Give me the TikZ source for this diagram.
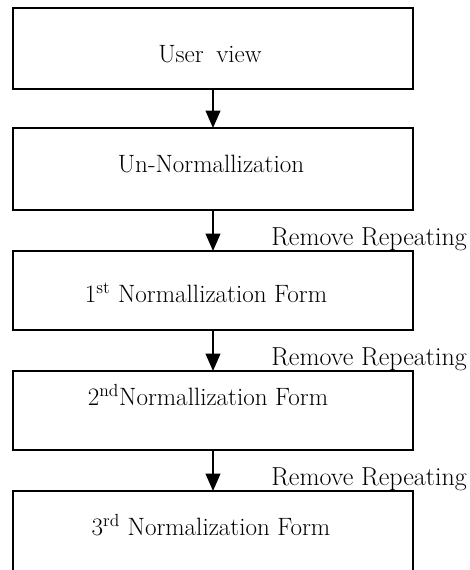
\documentclass[tikz,border=0pt]{standalone}
\usetikzlibrary{arrows.meta}
\begin{document}
\begin{tikzpicture}[x=0.75pt,y=-0.75pt,
  box/.style={draw=black,line width=1.1pt,rectangle,inner sep=0pt,outer sep=0pt,minimum width=300pt},
  txt/.style={anchor=base,inner sep=0pt,font=\fontsize{18.8}{22}\selectfont},
  lbl/.style={anchor=base west,inner sep=0pt,font=\fontsize{19.5}{23}\selectfont},
  arr/.style={line width=1.4pt,-{Triangle[length=13pt,width=11pt]}}]
\useasboundingbox (0,0) rectangle (469,570);
\clip (0,0) rectangle (469,570);
\node[box,minimum height=60.75pt] (b1) at (213,48.5) {};
\node[box,minimum height=61.5pt] (b2) at (213,169) {};
\node[box,minimum height=59.25pt] (b3) at (213,290.5) {};
\node[box,minimum height=59.25pt] (b4) at (213,410.5) {};
\node[box,minimum height=75pt] (b5) at (213,541) {};
\node[txt] (t1) at (210,63) {User\hspace{0.2em} view};
\node[txt] (t2) at (211,173) {Un-Normallization};
\node[txt] (t3) at (206,302) {1\textsuperscript{st} Normallization Form};
\node[txt] (t4) at (208,405) {2\textsuperscript{nd}Normallization Form};
\node[txt] (t5) at (211,535) {3\textsuperscript{rd} Normalization Form};
\node[lbl] (l1) at (271,245) {Remove Repeating};
\node[lbl] (l2) at (271,365) {Remove Repeating};
\node[lbl] (l3) at (271,485) {Remove Repeating};
\draw[arr] (b1.south) -- (b2.north);
\draw[arr] (b2.south) -- (b3.north);
\draw[arr] (b3.south) -- (b4.north);
\draw[arr] (b4.south) -- (b5.north);
\end{tikzpicture}
\end{document}
